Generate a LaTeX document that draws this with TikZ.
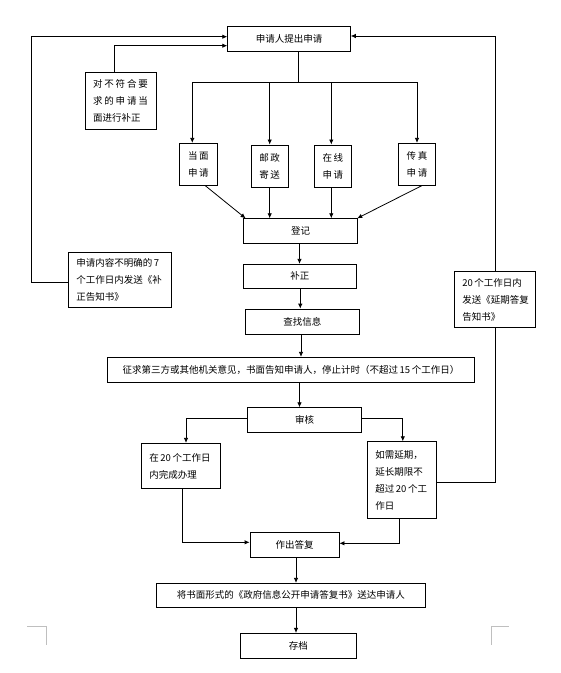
\documentclass[tikz,border=0pt]{standalone}
\usepackage{fontspec}
\setmainfont{Noto Sans CJK SC}
\usetikzlibrary{arrows.meta,calc}
\tikzset{
  bx/.style={draw, line width=0.8pt, fill=white, inner sep=0pt, font=\fontsize{9.5}{17}\selectfont},
  mbx/.style={bx, align=left, inner xsep=8pt},
  cbx/.style={bx, align=center},
  arr/.style={line width=0.8pt, -{Latex[length=5pt,width=4.5pt]}},
  ln/.style={line width=0.8pt},
  crop/.style={line width=0.8pt, draw=black!25}
}
\newcommand{\spr}[2]{\makebox[#1]{#2}}
\begin{document}
\begin{tikzpicture}[x=1pt,y=-1pt]
\useasboundingbox (0,0) rectangle (561,673);
% nodes
\node[bx, minimum width=122.7pt, minimum height=25pt] (top) at (289,38.8) {申请人提出申请};
\node[mbx, text width=55pt, minimum height=57pt] (fix) at (120.5,100.5)
  {\spr{55pt}{对\hfill 不\hfill 符\hfill 合\hfill 要}\\\spr{55pt}{求\hfill 的\hfill 申\hfill 请\hfill 当}\\\mbox{面进行补正}};
\node[cbx, minimum width=38pt, minimum height=42pt] (dm) at (198.3,164.3) {当\,面\\申\,请};
\node[cbx, minimum width=36.7pt, minimum height=42.7pt] (yz) at (269.7,166.3) {邮\,政\\寄\,送};
\node[cbx, minimum width=37pt, minimum height=42.7pt] (zx) at (332.8,166.3) {在\,线\\申\,请};
\node[cbx, minimum width=36.6pt, minimum height=42pt] (cz) at (417,164.3) {传\,真\\申\,请};
\node[bx, minimum width=113.6pt, minimum height=24.6pt] (dj) at (300.5,231) {登记};
\node[mbx, text width=87.4pt, minimum height=55pt] (bz7) at (120,279.8)
  {\mbox{申请内容不明确的\,7}\\\mbox{个工作日内发送《补}\\\mbox{正告知书》}};
\node[bx, minimum width=113pt, minimum height=24pt] (bz) at (299.8,276.3) {补正};
\node[mbx, text width=65.4pt, minimum height=55.6pt] (ext) at (495,299.5)
  {\mbox{20\,个工作日内}\\\mbox{发送《延期答复}\\\mbox{告知书》}};
\node[bx, minimum width=114pt, minimum height=25.3pt] (cx) at (302.3,321.7) {查找信息};
\node[bx, minimum width=367.4pt, minimum height=25pt] (zq) at (291,369.8)
  {征求第三方或其他机关意见，书面告知申请人，停止计时（不超过\,15\,个工作日）};
\node[bx, minimum width=114.4pt, minimum height=24.6pt] (sh) at (304.5,420) {审核};
\node[mbx, text width=63.4pt, minimum height=45.4pt] (in20) at (181,466)
  {\mbox{在\,20\,个工作日}\\\mbox{内完成办理}};
\node[mbx, text width=53pt, minimum height=76.6pt] (ru) at (401.8,480)
  {\mbox{如需延期，}\\\mbox{延长期限不}\\\mbox{超过\,20\,个工}\\\mbox{作日}};
\node[bx, minimum width=89pt, minimum height=24.7pt] (zc) at (294.5,544.7) {作出答复};
\node[bx, minimum width=269.5pt, minimum height=24pt] (sd) at (290.8,595.3)
  {将书面形式的《政府信息公开申请答复书》送达申请人};
\node[bx, minimum width=115.4pt, minimum height=24.7pt] (cd) at (298.3,645.7) {存档};
% connectors
\draw[arr] ([yshift=-3pt]bz7.west) -- ++(-37,0) |- ([yshift=2.1pt]top.west);
\draw[arr] ([xshift=-6pt]fix.north) |- ([yshift=-6.9pt]top.west);
\draw[ln] ([yshift=-2pt]ru.east) -| (ext.south);
\draw[arr] (ext.north) |- ([yshift=2.8pt]top.east);
\draw[ln] ([xshift=9pt]top.south) -- ++(0,30.7) coordinate (sp);
\draw[arr] (sp) -| ([xshift=-6pt]dm.north);
\draw[arr] (sp) -| (yz.north);
\draw[arr] (sp) -| ([xshift=-1.5pt]zx.north);
\draw[arr] (sp) -| (cz.north);
\draw[arr] ([xshift=7pt]dm.south) -- ([xshift=2.3pt]dj.north west);
\draw[arr] (yz.south) -- (yz.south |- dj.north);
\draw[arr] ([xshift=-1.5pt]zx.south) -- ([xshift=-1.5pt]zx.south |- dj.north);
\draw[arr] ([xshift=4.7pt]cz.south) -- ([xshift=-0.5pt]dj.north east);
\draw[arr] ([xshift=-1pt]dj.south) -- ([xshift=-1pt]dj.south |- bz.north);
\draw[arr] ([xshift=0.5pt]bz.south) -- ([xshift=0.5pt]bz.south |- cx.north);
\draw[arr] ([xshift=-1.3pt]cx.south) -- ([xshift=-1.3pt]cx.south |- zq.north);
\draw[arr] ([xshift=8.5pt]zq.south) -- ([xshift=8.5pt]zq.south |- sh.north);
\draw[arr] ([yshift=1.3pt]sh.west) -| ([xshift=5pt]in20.north);
\draw[arr] ([yshift=1.3pt]sh.east) -| ([xshift=1pt]ru.north);
\draw[arr] ([xshift=1.7pt]in20.south) |- ([yshift=2.4pt]zc.west);
\draw[arr] ([xshift=-2.5pt]ru.south) |- ([yshift=1.4pt]zc.east);
\draw[arr] ([xshift=1.5pt]zc.south) -- ([xshift=1.5pt]zc.south |- sd.north);
\draw[arr] ([xshift=1.5pt]zc.south |- sd.south) -- ([xshift=1.5pt]zc.south |- cd.north);
% crop marks
\draw[crop] (27,626.3) -- (46,626.3) -- (46,644.7);
\draw[crop] (491.4,644.7) -- (491.4,626.3) -- (509.4,626.3);
\end{tikzpicture}
\end{document}
